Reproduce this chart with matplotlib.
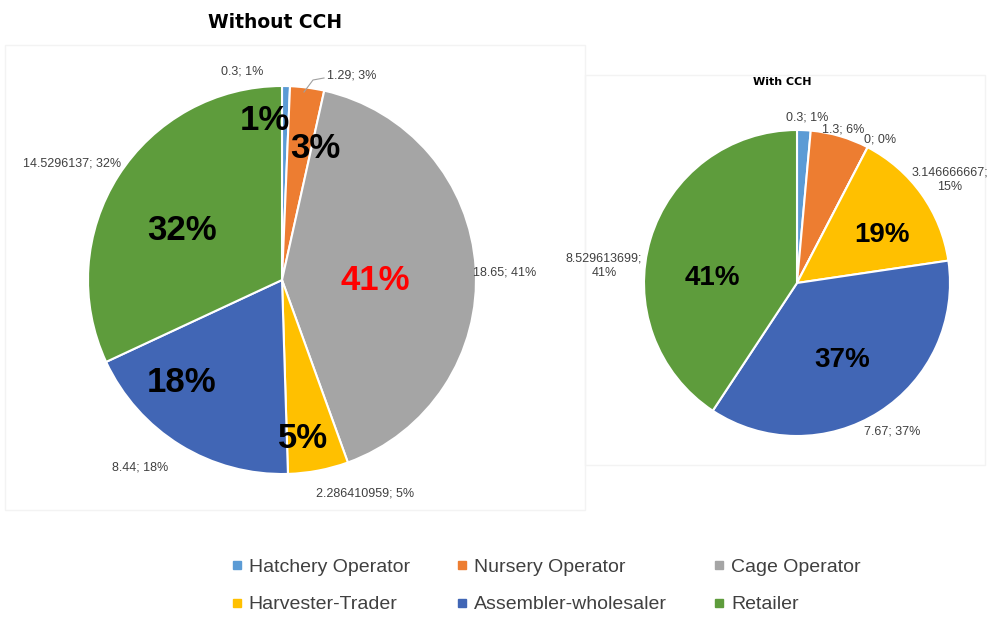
import matplotlib.pyplot as plt
from matplotlib.lines import Line2D
from matplotlib.patches import Rectangle

# data
categories = ['Hatchery Operator', 'Nursery Operator', 'Cage Operator',
              'Harvester-Trader', 'Assembler-wholesaler', 'Retailer']
colors = ['#5B9BD5', '#ED7D31', '#A5A5A5', '#FFC000', '#4166B5', '#5E9C3C']

without_vals = [0.3, 1.29, 18.65, 2.286410959, 8.44, 14.5296137]
without_outer = ['0.3; 1%', '1.29; 3%', '18.65; 41%', '2.286410959; 5%',
                 '8.44; 18%', '14.5296137; 32%']
without_inner = ['1%', '3%', '41%', '5%', '18%', '32%']

with_vals = [0.3, 1.3, 0, 3.146666667, 7.67, 8.529613699]
with_outer = ['0.3; 1%', '1.3; 6%', '0; 0%', '3.146666667;\n15%',
              '7.67; 37%', '8.529613699;\n41%']
with_inner = ['19%', '37%', '41%']

W, H = 992, 619
plt.rcParams['font.family'] = ['Liberation Sans', 'DejaVu Sans']
fig = plt.figure(figsize=(W / 100, H / 100), dpi=100)


def px(x, y):
    return x / W, 1 - y / H


def pie_axes(cx, cy, r):
    ax = fig.add_axes([(cx - r) / W, (H - cy - r) / H, 2 * r / W, 2 * r / H])
    return ax


# faint panel frames
frame = dict(facecolor='none', edgecolor='#f3f3f3', linewidth=1.0,
             transform=fig.transFigure)
fig.patches.append(Rectangle(px(5, 510), 580 / W, 465 / H, **frame))
fig.patches.append(Rectangle(px(585, 465), 400 / W, 390 / H, **frame))

wp = dict(edgecolor='white', linewidth=1.5)

# left pie
ax1 = pie_axes(282, 280, 194)
ax1.pie(without_vals, colors=colors, startangle=90, counterclock=False,
        wedgeprops=wp)
ax1.set_xlim(-1, 1)
ax1.set_ylim(-1, 1)
ax1.set_aspect('auto')
ax1.axis('off')

# right pie
ax2 = pie_axes(797, 283, 153)
ax2.pie(with_vals, colors=colors, startangle=90, counterclock=False,
        wedgeprops=wp)
ax2.set_xlim(-1, 1)
ax2.set_ylim(-1, 1)
ax2.set_aspect('auto')
ax2.axis('off')

# titles
fig.text(*px(275, 22), 'Without CCH', ha='center', va='center',
         fontsize=13.5, fontweight='heavy', family='DejaVu Sans')
fig.text(*px(782, 82), 'With CCH', ha='center', va='center',
         fontsize=8, fontweight='heavy', family='DejaVu Sans')

# outer data labels
small = dict(fontsize=9, color='#404040', ha='center', va='center')
left_pos = [(242, 71), (352, 76), (505, 272), (365, 493), (140, 468), (72, 163)]
for (x, y), t in zip(left_pos, without_outer):
    fig.text(*px(x, y), t, **small)
fig.add_artist(Line2D([304 / W, 313 / W, 324 / W],
                      [1 - 92 / H, 1 - 80 / H, 1 - 78 / H],
                      color='#a0a0a0', lw=0.8))

right_pos = [(807, 118), (843, 130), (880, 139), (950, 180), (892, 431), (604, 266)]
for (x, y), t in zip(right_pos, with_outer):
    fig.text(*px(x, y), t, linespacing=1.3, **small)

# big inner labels
big = dict(fontsize=25, fontweight='bold', ha='center', va='center')
left_inner_pos = [(265, 120), (315, 148), (375, 280), (303, 438), (182, 382), (182, 230)]
for (x, y), t in zip(left_inner_pos, without_inner):
    fig.text(*px(x, y), t, color='red' if t == '41%' else 'black', **big)

big2 = dict(fontsize=20, fontweight='bold', ha='center', va='center', color='black')
right_inner_pos = [(882, 235), (842, 360), (712, 278)]
for (x, y), t in zip(right_inner_pos, with_inner):
    fig.text(*px(x, y), t, **big2)

# legend (column-first order)
order = [0, 3, 1, 4, 2, 5]
handles = [Line2D([], [], marker='s', linestyle='none', markersize=6,
                  color=colors[i], label=categories[i]) for i in order]
fig.legend(handles=handles, ncol=3, loc='center', bbox_to_anchor=px(545, 586),
           frameon=False, fontsize=14, labelcolor='#404040', handletextpad=0.2,
           columnspacing=2.3, labelspacing=1.0, handlelength=0.8)

fig.savefig('out.png', dpi=100)
